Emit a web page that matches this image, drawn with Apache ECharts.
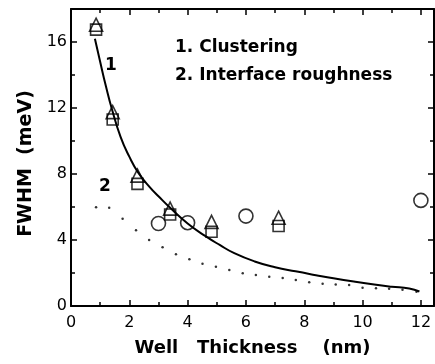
<!DOCTYPE html>
<html>
<head>
<meta charset="utf-8">
<script src="https://cdn.jsdelivr.net/npm/echarts@6/dist/echarts.min.js"></script>
<style>
  html, body { margin: 0; padding: 0; background: #fff; }
  #chart { width: 435px; height: 364px; }
</style>
</head>
<body>
<div id="chart"></div>
<script>
// values (nm, meV)
const wellThickness = [0.86, 1.43, 2.28, 3.4, 4.82, 7.12]
const fwhmTriangle = [17.05, 11.75, 7.9, 5.9, 5.1, 5.35]
const fwhmSquare = [16.75, 11.3, 7.4, 5.55, 4.5, 4.85]
const circleThickness = [3.0, 4.0, 6.0, 12.0]
const fwhmCircle = [5.0, 5.05, 5.45, 6.4]

// curve 1: clustering
const clusterX = [0.82, 1.0, 1.2, 1.4, 1.7, 2.0, 2.3, 2.7, 3.0, 3.4, 4.0, 4.6, 5.1, 5.6, 6.3, 7.0, 7.7, 8.4, 9.0, 9.7, 10.4, 11.0, 11.6, 11.95]
const clusterY = [16.2, 14.8, 13.3, 11.95, 10.25, 9.05, 8.1, 7.2, 6.65, 5.95, 5.0, 4.25, 3.7, 3.2, 2.7, 2.35, 2.1, 1.87, 1.68, 1.48, 1.3, 1.17, 1.06, 0.88]

// curve 2: interface roughness (dotted)
const roughX = [0.86, 1.31, 1.77, 2.23, 2.68, 3.14, 3.6, 4.06, 4.51, 4.97, 5.43, 5.89, 6.34, 6.8, 7.26, 7.71, 8.17, 8.63, 9.08, 9.54, 10.0, 10.46, 10.91, 11.37, 11.85]
const roughY = [5.98, 5.96, 5.29, 4.59, 4.0, 3.56, 3.13, 2.83, 2.56, 2.38, 2.18, 1.98, 1.88, 1.78, 1.7, 1.58, 1.44, 1.35, 1.31, 1.27, 1.11, 1.07, 1.05, 0.99, 0.87]

const X_MAX = 12.45
const Y_MAX = 18

const pairs = (xs, ys) => xs.map((x, i) => [x, ys[i]])

function frameAxis (position, min, max, interval, major, extra) {
  return Object.assign({
    type: 'value',
    position: position,
    min: min,
    max: max,
    interval: interval,
    axisLine: { show: major, onZero: false, lineStyle: { color: '#000', width: 2 } },
    axisTick: { show: true, inside: true, length: major ? 6 : 4, lineStyle: { color: '#000', width: 1.5 } },
    axisLabel: { show: false },
    splitLine: { show: false }
  }, extra || {})
}

const tickFont = { color: '#000', fontSize: 16, fontFamily: 'DejaVu Sans' }
const titleFont = { color: '#000', fontWeight: 'bold', fontFamily: 'DejaVu Sans' }

let option = {
  animation: false,
  backgroundColor: '#fff',
  grid: { left: 71, right: 1, top: 9, bottom: 58 },
  xAxis: [
    frameAxis('bottom', 0, X_MAX, 2, true, {
      axisLabel: Object.assign({ show: true, margin: 9, showMaxLabel: false }, tickFont),
      name: 'Well   Thickness    (nm)',
      nameLocation: 'middle',
      nameGap: 33,
      nameTextStyle: Object.assign({ fontSize: 18 }, titleFont)
    }),
    frameAxis('bottom', 0, X_MAX, 1, false),
    frameAxis('top', 0, X_MAX, 2, true),
    frameAxis('top', 0, X_MAX, 1, false)
  ],
  yAxis: [
    frameAxis('left', 0, Y_MAX, 4, true, {
      axisLabel: Object.assign({ show: true, margin: 4, showMaxLabel: false }, tickFont),
      name: 'FWHM  (meV)',
      nameLocation: 'middle',
      nameGap: 30,
      nameTextStyle: Object.assign({ fontSize: 19, padding: [0, 12, 0, 0] }, titleFont)
    }),
    frameAxis('left', 0, Y_MAX, 2, false),
    frameAxis('right', 0, Y_MAX, 4, true),
    frameAxis('right', 0, Y_MAX, 2, false)
  ],
  graphic: [
    { type: 'text', left: 175, top: 39, style: { text: '1. Clustering', fill: '#000', font: 'bold 17px "DejaVu Sans"' } },
    { type: 'text', left: 175, top: 67, style: { text: '2. Interface roughness', fill: '#000', font: 'bold 17px "DejaVu Sans"' } },
    { type: 'text', left: 105, top: 57, style: { text: '1', fill: '#000', font: 'bold 17px "DejaVu Sans"' } },
    { type: 'text', left: 99, top: 178, style: { text: '2', fill: '#000', font: 'bold 17px "DejaVu Sans"' } }
  ],
  series: [
    {
      name: 'interface roughness',
      type: 'scatter',
      data: pairs(roughX, roughY),
      symbol: 'circle',
      symbolSize: 2.5,
      itemStyle: { color: '#000' },
      z: 1
    },
    {
      name: 'clustering',
      type: 'line',
      data: pairs(clusterX, clusterY),
      smooth: 0.5,
      showSymbol: false,
      lineStyle: { color: '#000', width: 2 },
      z: 2
    },
    {
      name: 'squares',
      type: 'scatter',
      data: pairs(wellThickness, fwhmSquare),
      symbol: 'rect',
      symbolSize: 11,
      itemStyle: { color: 'rgba(0,0,0,0)', borderColor: '#000', borderWidth: 1.6 },
      z: 3
    },
    {
      name: 'triangles',
      type: 'scatter',
      data: pairs(wellThickness, fwhmTriangle),
      symbol: 'triangle',
      symbolSize: [13, 13],
      itemStyle: { color: 'rgba(0,0,0,0)', borderColor: '#000', borderWidth: 1.6 },
      z: 4
    },
    {
      name: 'circles',
      type: 'scatter',
      data: pairs(circleThickness, fwhmCircle),
      symbol: 'circle',
      symbolSize: 14,
      itemStyle: { color: 'rgba(0,0,0,0)', borderColor: '#000', borderWidth: 1.6 },
      z: 4
    }
  ]
}

let chart = echarts.init(document.getElementById('chart'))
chart.setOption(option)
</script>
</body>
</html>
